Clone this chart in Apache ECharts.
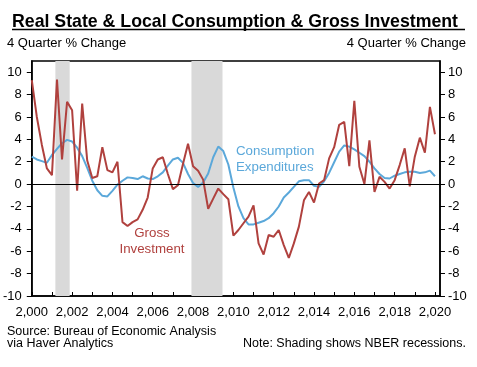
<!DOCTYPE html>
<html>
<head>
<meta charset="utf-8">
<script src="https://cdn.jsdelivr.net/npm/echarts@6/dist/echarts.min.js"></script>
<style>
html,body{margin:0;padding:0;background:#fff;}
#chart{width:477px;height:367px;}
</style>
</head>
<body>
<div id="chart"></div>
<script>
// Quarterly observations 2000Q1 .. 2020Q1
const years = [2000,2001,2002,2003,2004,2005,2006,2007,2008,2009,2010,2011,2012,2013,2014,2015,2016,2017,2018,2019,2020];
const quarters = [];
years.forEach(y => { for (let q = 1; q <= 4; q++) { if (y === 2020 && q > 1) break; quarters.push(y + 'Q' + q); } });

const grossInvestment = [
  9.3, 6.0, 3.5, 1.4,
  0.8, 9.35, 2.2, 7.35,
  6.6, -0.6, 7.2, 2.1,
  0.55, 0.7, 3.3, 1.25,
  1.05, 2.0, -3.4, -3.75,
  -3.4, -3.15, -2.3, -1.2,
  1.4, 2.2, 2.4, 0.9,
  -0.45, -0.1, 1.8, 3.6,
  1.6, 1.2, 0.4, -2.2,
  -1.3, -0.4, -0.9, -1.35,
  -4.6, -4.1, -3.5, -2.9,
  -1.9, -5.3, -6.3, -4.55,
  -4.7, -4.1, -5.45, -6.6,
  -5.3, -3.8, -1.45, -0.7,
  -1.65, 0.05, 0.35, 2.3,
  3.3, 5.3, 5.55, 1.6,
  7.45, 1.55, 0.0, 3.9,
  -0.7, 0.65, 0.2, -0.4,
  0.35, 1.7, 3.2, -0.2,
  2.45, 4.15, 2.8, 6.9,
  4.45
];

const consumptionExpenditures = [
  2.45, 2.2, 2.05, 1.9,
  2.6, 3.15, 3.65, 3.95,
  3.8, 3.25, 2.5, 1.45,
  0.3, -0.55, -1.05, -1.1,
  -0.6, -0.05, 0.3, 0.6,
  0.55, 0.45, 0.7, 0.5,
  0.45, 0.7, 1.05, 1.65,
  2.2, 2.35, 1.9, 0.9,
  0.1, -0.25, 0.15, 0.95,
  2.4, 3.35, 2.95, 1.75,
  -0.3, -2.0, -3.05, -3.6,
  -3.6, -3.45, -3.3, -3.05,
  -2.6, -2.0, -1.2, -0.75,
  -0.25, 0.25, 0.35, 0.35,
  -0.15, -0.25, 0.25, 1.0,
  1.95, 2.9, 3.45, 3.35,
  3.1, 2.8, 2.5, 2.0,
  1.4, 0.9, 0.55, 0.5,
  0.75, 0.9, 1.05, 1.1,
  1.1, 1.0, 1.05, 1.2,
  0.7
];

// NBER recessions (decimal years)
const recessions = [[2001.17, 2001.88], [2007.92, 2009.46]];

const xTickYears = years;
const xLabelYears = [2000,2002,2004,2006,2008,2010,2012,2014,2016,2018,2020];
const yTicks = [-10,-8,-6,-4,-2,0,2,4,6,8,10];

const TITLE = 'Real State & Local Consumption & Gross Investment';

function qToYear(s) {
  const y = parseInt(s.slice(0, 4), 10);
  const q = parseInt(s.slice(5), 10);
  return y + (q - 1) / 4;
}
const xs = quarters.map(qToYear);
const redData = xs.map((x, i) => [x, grossInvestment[i]]);
const blueData = xs.map((x, i) => [x, consumptionExpenditures[i]]);

const FONT = '"Liberation Sans", Arial, Helvetica, sans-serif';
const RED = '#b0413e';
const BLUE = '#5ba8da';

// condensed title: measure and squeeze horizontally to the reference width
const titleFont = 'bold 19px "Liberation Sans", Arial, sans-serif';
const ctx = document.createElement('canvas').getContext('2d');
ctx.font = titleFont;
const titleW = ctx.measureText(TITLE).width;
const titleTargetW = 446;
const titleScale = titleTargetW / titleW;

const chart = echarts.init(document.getElementById('chart'), null, {renderer: 'canvas'});

const yAxisBase = (pos) => ({
  type: 'value',
  position: pos,
  min: -10,
  max: 11,
  splitLine: {show: false},
  axisLine: {show: true, lineStyle: {color: '#000', width: 1.5}},
  axisTick: {show: true, inside: false, length: 5, lineStyle: {color: '#000', width: 1}, customValues: yTicks},
  axisLabel: {show: true, customValues: yTicks, color: '#000', fontSize: 13, fontFamily: FONT, margin: pos === 'left' ? 10 : 8}
});

chart.setOption({
  animation: false,
  backgroundColor: '#fff',
  title: [
    {text: '4 Quarter % Change', left: 7, top: 37, padding: 0, textStyle: {fontFamily: FONT, fontWeight: 'normal', fontSize: 13, color: '#000'}},
    {text: '4 Quarter % Change', right: 11, top: 37, padding: 0, textStyle: {fontFamily: FONT, fontWeight: 'normal', fontSize: 13, color: '#000'}},
    {text: 'Source: Bureau of Economic Analysis\nvia Haver Analytics', left: 7, top: 326, padding: 0, textStyle: {fontFamily: FONT, fontWeight: 'normal', fontSize: 12.5, color: '#000', lineHeight: 12}},
    {text: 'Note: Shading shows NBER recessions.', right: 11, top: 337, padding: 0, textStyle: {fontFamily: FONT, fontWeight: 'normal', fontSize: 12.5, color: '#000'}}
  ],
  graphic: [
    {type: 'text', x: 12, y: 31, scaleX: titleScale, scaleY: 1, originX: 0, originY: 0,
     style: {text: TITLE, font: titleFont, fill: '#000', textAlign: 'left', textVerticalAlign: 'bottom', verticalAlign: 'bottom'}},
    {type: 'line', shape: {x1: 12, y1: 29.5, x2: 465, y2: 29.5}, style: {stroke: '#000', lineWidth: 1.3}},
    {type: 'text', x: 236, y: 143, style: {text: 'Consumption\nExpenditures', fill: BLUE, font: '13.3px ' + FONT, lineHeight: 16}},
    {type: 'text', x: 152, y: 225, style: {text: 'Gross\nInvestment', fill: RED, font: '13.3px ' + FONT, lineHeight: 16, align: 'center', textAlign: 'center'}}
  ],
  grid: {left: 31.5, right: 37, top: 61, bottom: 71, show: true, borderColor: '#000', borderWidth: 1.5, backgroundColor: 'transparent'},
  xAxis: {
    type: 'value',
    min: 2000,
    max: 2020.25,
    splitLine: {show: false},
    axisLine: {show: true, onZero: false, lineStyle: {color: '#000', width: 1.5}},
    axisTick: {show: true, inside: true, length: 4, lineStyle: {color: '#000', width: 1}, customValues: xTickYears},
    axisLabel: {show: true, customValues: xLabelYears, color: '#000', fontSize: 13, fontFamily: FONT, margin: 10}
  },
  yAxis: [yAxisBase('left'), yAxisBase('right')],
  series: [
    {
      type: 'line', yAxisIndex: 0, data: [], silent: true,
      markArea: {silent: true, itemStyle: {color: '#d9d9d9'}, data: recessions.map(r => [{xAxis: r[0]}, {xAxis: r[1]}])},
      markLine: {silent: true, symbol: 'none', label: {show: false}, lineStyle: {color: '#000', width: 1, type: 'solid'}, data: [{yAxis: 0}]}
    },
    {name: 'Consumption Expenditures', type: 'line', data: blueData, showSymbol: false, lineStyle: {color: BLUE, width: 2}, itemStyle: {color: BLUE}, z: 3},
    {name: 'Gross Investment', type: 'line', data: redData, showSymbol: false, lineStyle: {color: RED, width: 2}, itemStyle: {color: RED}, z: 4}
  ]
});
</script>
</body>
</html>
